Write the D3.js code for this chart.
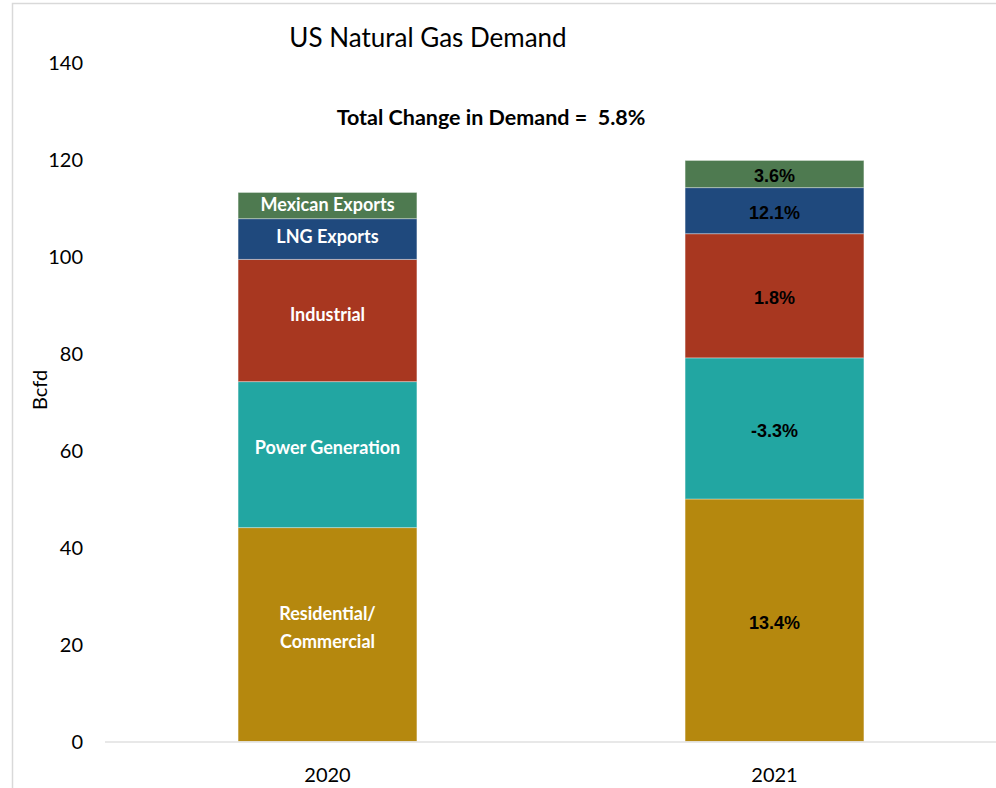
<!DOCTYPE html>
<html>
<head>
<meta charset="utf-8">
<script src="https://cdn.jsdelivr.net/npm/d3@7"></script>
<style>
  html, body { margin: 0; padding: 0; background: #fff; }
  svg { display: block; }
</style>
</head>
<body>
<div id="chart"></div>
<script>
// data (Bcfd)
const years = ['2020', '2021']
const sectors = ['Residential/Commercial', 'Power Generation', 'Industrial', 'LNG Exports', 'Mexican Exports']
const sectorLabels = [['Residential/', 'Commercial'], ['Power Generation'], ['Industrial'], ['LNG Exports'], ['Mexican Exports']]
const values2020 = [44.1, 30.1, 25.2, 8.4, 5.4]
const values2021 = [50.0, 29.1, 25.6, 9.5, 5.6]
const changeLabels = ['13.4%', '-3.3%', '1.8%', '12.1%', '3.6%']
const yTicks = [0, 20, 40, 60, 80, 100, 120, 140]
const totalChange = '5.8%'
const colors = ['#B5880E', '#22A6A2', '#A83720', '#1F497D', '#4E7A50']

const width = 996
const height = 788
const calibri = 'Lato, "Open Sans", sans-serif'
const arial = '"Liberation Sans", Arial, sans-serif'

const rows = years.map((yr, i) => {
  const r = { year: yr }
  const vals = i === 0 ? values2020 : values2021
  sectors.forEach((s, j) => { r[s] = vals[j] })
  return r
})
const stacked = d3.stack().keys(sectors)(rows)

const x = d3.scaleBand()
  .domain(years)
  .range([104, 998])
  .paddingInner(0.6)
  .paddingOuter(0.3)

const y = d3.scaleLinear()
  .domain([0, 140])
  .range([741.5, 62.5])

const svg = d3.select('#chart').append('svg')
  .attr('width', width)
  .attr('height', height)

// chart frame
svg.append('path')
  .attr('fill', 'none')
  .attr('stroke', '#d9d9d9')
  .attr('stroke-width', 1.5)
  .attr('d', `M12.5,${height} L12.5,3.5 L${width},3.5`)

// y tick labels
svg.append('g')
  .selectAll('text')
  .data(yTicks)
  .join('text')
  .attr('x', 83)
  .attr('y', d => y(d))
  .attr('dy', '0.35em')
  .attr('text-anchor', 'end')
  .attr('font-family', calibri)
  .attr('font-size', 20)
  .attr('fill', '#000')
  .text(d => d)

// bars
const layer = svg.append('g')
  .selectAll('g')
  .data(stacked)
  .join('g')
  .attr('fill', (d, i) => colors[i])

layer.selectAll('rect')
  .data(d => d)
  .join('rect')
  .attr('x', d => x(d.data.year))
  .attr('y', d => y(d[1]))
  .attr('width', x.bandwidth())
  .attr('height', d => y(d[0]) - y(d[1]))
  .attr('stroke', '#fff')
  .attr('stroke-opacity', 0.35)
  .attr('stroke-width', 1)

// baseline
svg.append('line')
  .attr('x1', 105)
  .attr('x2', width)
  .attr('y1', y(0) + 0.5)
  .attr('y2', y(0) + 0.5)
  .attr('stroke', '#e0e0e0')
  .attr('stroke-width', 1.5)

// sector names on 2020 bar
stacked.forEach((s, i) => {
  const d = s[0]
  const segH = y(d[0]) - y(d[1])
  const cy = (y(d[0]) + y(d[1])) / 2 - Math.min(7, segH * 0.05)
  const lines = sectorLabels[i]
  const t = svg.append('text')
    .attr('x', x('2020') + x.bandwidth() / 2)
    .attr('y', cy - (lines.length - 1) * 14)
    .attr('text-anchor', 'middle')
    .attr('font-family', calibri)
    .attr('font-weight', 'bold')
    .attr('font-size', 18)
    .attr('fill', '#fff')
  lines.forEach((ln, k) => {
    t.append('tspan')
      .attr('x', x('2020') + x.bandwidth() / 2)
      .attr('dy', k === 0 ? '0.35em' : 28)
      .text(ln)
  })
})

// change labels on 2021 bar
stacked.forEach((s, i) => {
  const d = s[1]
  svg.append('text')
    .attr('x', x('2021') + x.bandwidth() / 2)
    .attr('y', (y(d[0]) + y(d[1])) / 2 + 2)
    .attr('dy', '0.35em')
    .attr('text-anchor', 'middle')
    .attr('font-family', arial)
    .attr('font-weight', 'bold')
    .attr('font-size', 18)
    .attr('fill', '#000')
    .text(changeLabels[i])
})

// x labels
svg.append('g')
  .selectAll('text')
  .data(years)
  .join('text')
  .attr('x', d => x(d) + x.bandwidth() / 2)
  .attr('y', 775)
  .attr('dy', '0.35em')
  .attr('text-anchor', 'middle')
  .attr('font-family', calibri)
  .attr('font-size', 20)
  .attr('fill', '#000')
  .text(d => d)

// titles
svg.append('text')
  .attr('x', 428)
  .attr('y', 38)
  .attr('dy', '0.35em')
  .attr('text-anchor', 'middle')
  .attr('font-family', calibri)
  .attr('font-size', 26)
  .attr('fill', '#000')
  .text('US Natural Gas Demand')

svg.append('text')
  .attr('x', 491)
  .attr('y', 117)
  .attr('dy', '0.35em')
  .attr('text-anchor', 'middle')
  .attr('font-family', calibri)
  .attr('font-weight', 'bold')
  .attr('font-size', 21.5)
  .attr('fill', '#000')
  .attr('xml:space', 'preserve')
  .text(`Total Change in Demand =  ${totalChange}`)

svg.append('text')
  .attr('transform', 'translate(40,390) rotate(-90)')
  .attr('dy', '0.35em')
  .attr('text-anchor', 'middle')
  .attr('font-family', calibri)
  .attr('font-size', 20)
  .attr('fill', '#000')
  .text('Bcfd')
</script>
</body>
</html>
